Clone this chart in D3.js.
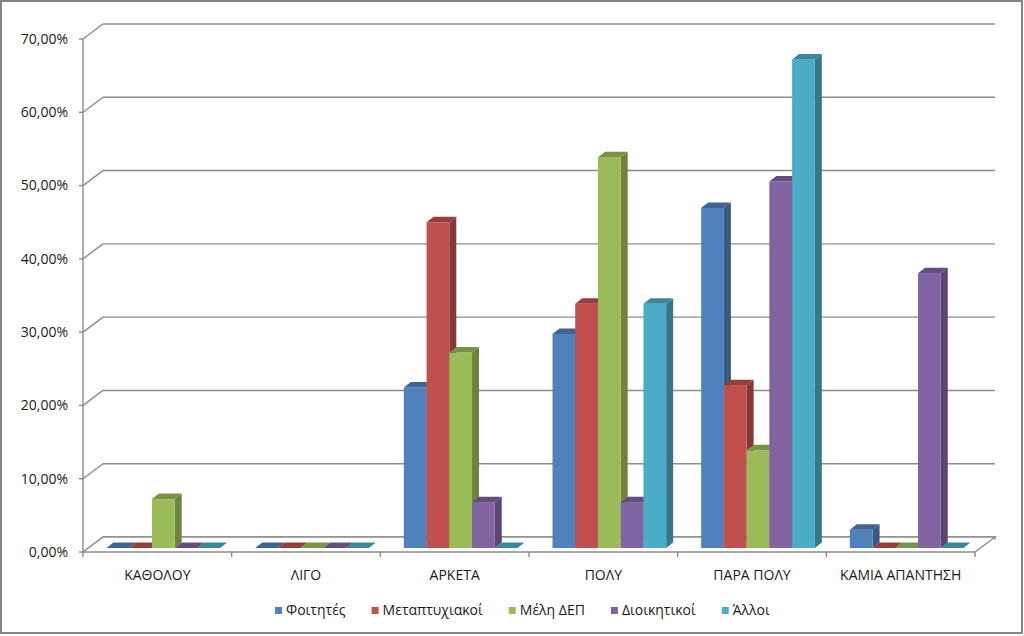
<!DOCTYPE html>
<html>
<head>
<meta charset="utf-8">
<script src="https://cdn.jsdelivr.net/npm/d3@7"></script>
<style>
  body { margin: 0; background: #fff; }
  text { font-family: "Open Sans", "DejaVu Sans", sans-serif; fill: #1a1a1a; }
</style>
</head>
<body>
<svg id="chart" width="1024" height="636"></svg>
<script>
// data (share of answers)
const categories = ['ΚΑΘΟΛΟΥ', 'ΛΙΓΟ', 'ΑΡΚΕΤΑ', 'ΠΟΛΥ', 'ΠΑΡΑ ΠΟΛΥ', 'ΚΑΜΙΑ ΑΠΑΝΤΗΣΗ'];
const seriesNames = ['Φοιτητές', 'Μεταπτυχιακοί', 'Μέλη ΔΕΠ', 'Διοικητικοί', 'Άλλοι'];
const foititesValues = [0, 0, 0.219, 0.292, 0.464, 0.025];
const metaptyxiakoiValues = [0, 0, 0.4444, 0.3333, 0.2222, 0];
const melhDepValues = [0.0667, 0, 0.2667, 0.5333, 0.1333, 0];
const dioikhtikoiValues = [0, 0, 0.0625, 0.0625, 0.50, 0.375];
const alloiValues = [0, 0, 0, 0.3333, 0.6667, 0];
const yTicks = [0, 0.1, 0.2, 0.3, 0.4, 0.5, 0.6, 0.7];
const colors = ['#4F81BD', '#C0504D', '#9BBB59', '#8064A2', '#4BACC6'];

const seriesValues = [foititesValues, metaptyxiakoiValues, melhDepValues, dioikhtikoiValues, alloiValues];

const svg = d3.select('#chart');

// plot geometry (front plane + oblique depth)
const plotLeft = 83, plotRight = 975, plotBottom = 552, plotTop = 39;
const wallDX = 20, wallDY = -15;   // back wall shift
const barDX = 6, barDY = -4;       // where the bar front faces sit
const depthDX = 7, depthDY = -5.5; // bar thickness

const x = d3.scaleBand().domain(categories).range([plotLeft, plotRight]);
const xs = d3.scaleBand().domain(d3.range(seriesNames.length))
  .range([0, x.bandwidth()]).paddingInner(0).paddingOuter(0.77);
const y = d3.scaleLinear().domain([0, 0.7]).range([plotBottom, plotTop]);

const gridColor = '#8c8c8c';
const fmt = d => d3.format('.2f')(d * 100).replace('.', ',') + '%';

// outer border
svg.append('rect')
  .attr('x', 1).attr('y', 1).attr('width', 1021).attr('height', 632)
  .attr('fill', 'none').attr('stroke', '#868686').attr('stroke-width', 2);

// back wall gridlines + side wall diagonals
const grid = svg.append('g');
yTicks.forEach(t => {
  grid.append('line')
    .attr('x1', plotLeft + wallDX).attr('x2', plotRight + wallDX)
    .attr('y1', y(t) + wallDY).attr('y2', y(t) + wallDY)
    .attr('stroke', gridColor).attr('stroke-width', 1.4);
  grid.append('line')
    .attr('x1', plotLeft).attr('y1', y(t))
    .attr('x2', plotLeft + wallDX).attr('y2', y(t) + wallDY)
    .attr('stroke', gridColor).attr('stroke-width', 1.4);
  grid.append('line')
    .attr('x1', plotLeft - 4).attr('x2', plotLeft)
    .attr('y1', y(t)).attr('y2', y(t))
    .attr('stroke', gridColor).attr('stroke-width', 1.4);
  grid.append('text')
    .attr('x', 68).attr('y', y(t)).attr('dy', '0.35em')
    .attr('text-anchor', 'end').attr('font-size', 14)
    .text(fmt(t));
});

// vertical axis
svg.append('line')
  .attr('x1', plotLeft).attr('x2', plotLeft).attr('y1', plotTop).attr('y2', plotBottom)
  .attr('stroke', gridColor).attr('stroke-width', 1.4);

// floor
svg.append('path')
  .attr('d', `M${plotLeft},${plotBottom}L${plotRight},${plotBottom}L${plotRight + wallDX},${plotBottom + wallDY}L${plotLeft + wallDX},${plotBottom + wallDY}Z`)
  .attr('fill', '#fff').attr('stroke', gridColor).attr('stroke-width', 1.4);
svg.append('line')
  .attr('x1', plotRight + wallDX).attr('y1', plotBottom + wallDY)
  .attr('x2', plotRight + wallDX).attr('y2', plotBottom + wallDY + 3)
  .attr('stroke', gridColor).attr('stroke-width', 1.2);

// category ticks
categories.concat([null]).forEach(c => {
  const xx = c === null ? plotRight : x(c);
  svg.append('line')
    .attr('x1', xx).attr('x2', xx).attr('y1', plotBottom).attr('y2', plotBottom + 5)
    .attr('stroke', gridColor).attr('stroke-width', 1.4);
});

// bars, left to right so each one hides its neighbour's side face
const bars = svg.append('g');
categories.forEach((cat, ci) => {
  seriesValues.forEach((vals, si) => {
    const v = vals[ci];
    const x0 = x(cat) + xs(si) + barDX;
    const x1 = x0 + xs.bandwidth();
    const yb = y(0) + barDY;
    const yt = y(v) + barDY;
    const base = d3.color(colors[si]);
    const g = bars.append('g');
    // side face
    g.append('path')
      .attr('d', `M${x1},${yb}L${x1},${yt}L${x1 + depthDX},${yt + depthDY}L${x1 + depthDX},${yb + depthDY}Z`)
      .attr('fill', base.darker(1.0));
    // front face
    if (v > 0) {
      g.append('rect')
        .attr('x', x0).attr('y', yt)
        .attr('width', x1 - x0).attr('height', yb - yt)
        .attr('fill', colors[si]);
    }
    // top face
    g.append('path')
      .attr('d', `M${x0},${yt}L${x1},${yt}L${x1 + depthDX},${yt + depthDY}L${x0 + depthDX},${yt + depthDY}Z`)
      .attr('fill', base.darker(0.7));
  });
});

// category labels
svg.append('g').selectAll('text')
  .data(categories)
  .join('text')
  .attr('x', d => x(d) + x.bandwidth() / 2)
  .attr('y', 575).attr('dy', '0.35em')
  .attr('text-anchor', 'middle').attr('font-size', 14)
  .text(d => d);

// legend
const legend = svg.append('g');
let lx = 275;
seriesNames.forEach((name, i) => {
  legend.append('rect')
    .attr('x', lx).attr('y', 607).attr('width', 7).attr('height', 7)
    .attr('fill', colors[i]);
  const t = legend.append('text')
    .attr('x', lx + 11).attr('y', 610.5).attr('dy', '0.35em')
    .attr('font-size', 14)
    .text(name);
  lx += 11 + t.node().getComputedTextLength() + 26;
});
</script>
</body>
</html>
